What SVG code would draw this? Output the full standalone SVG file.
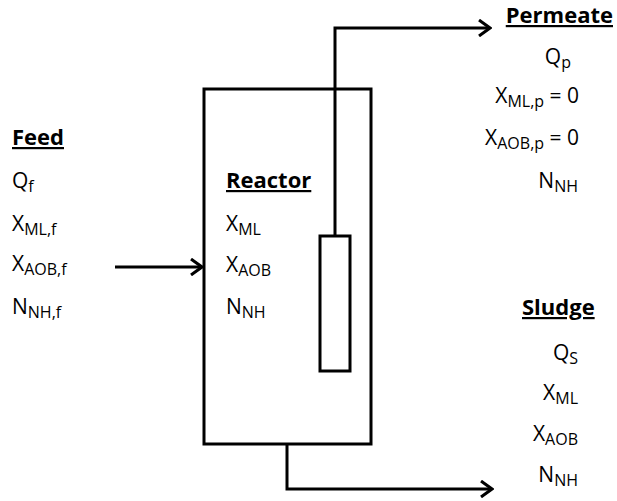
<svg xmlns="http://www.w3.org/2000/svg" width="617" height="501" viewBox="0 0 617 501">
<style>
text{font-family:"Open Sans","Liberation Sans",sans-serif;font-size:21px;fill:#000}
.h{font-weight:bold;text-decoration:underline;font-size:22px}
.e{text-anchor:end}
.s{font-size:16px}
.ln{fill:none;stroke:#000;stroke-width:3}
</style>
<defs>
<marker id="ah" markerWidth="14" markerHeight="18" refX="12" refY="9" orient="auto" markerUnits="userSpaceOnUse">
<path d="M1,1 L12,9 L1,17" fill="none" stroke="#000" stroke-width="3"/>
</marker>
</defs>
<rect width="617" height="501" fill="#fff"/>
<g id="connectors">
<path class="ln" d="M115,267 H202" marker-end="url(#ah)"/>
<path class="ln" d="M335,236 V28 H490" marker-end="url(#ah)"/>
<path class="ln" d="M287,444 V489 H492" marker-end="url(#ah)"/>
</g>
<g id="reactor">
<rect class="ln" x="204" y="89" width="167" height="355"/>
<text class="h" x="226" y="188">Reactor</text>
<text x="226" y="231">X<tspan class="s" dy="4">ML</tspan></text>
<text x="226" y="272">X<tspan class="s" dy="4">AOB</tspan></text>
<text x="226" y="314">N<tspan class="s" dy="4">NH</tspan></text>
</g>
<g id="membrane">
<rect class="ln" x="320" y="236" width="30" height="135"/>
</g>
<g id="feed">
<text class="h" x="12" y="145">Feed</text>
<text x="12" y="188">Q<tspan class="s" dy="4">f</tspan></text>
<text x="12" y="231">X<tspan class="s" dy="4">ML,f</tspan></text>
<text x="12" y="271">X<tspan class="s" dy="4">AOB,f</tspan></text>
<text x="12" y="314">N<tspan class="s" dy="4">NH,f</tspan></text>
</g>
<g id="permeate">
<text class="h e" x="613" y="23">Permeate</text>
<text class="e" x="571" y="64">Q<tspan class="s" dy="4">p</tspan></text>
<text class="e" x="579" y="103">X<tspan class="s" dy="4">ML,p</tspan><tspan dy="-4"> = 0</tspan></text>
<text class="e" x="579" y="145">X<tspan class="s" dy="4">AOB,p</tspan><tspan dy="-4"> = 0</tspan></text>
<text class="e" x="578" y="188">N<tspan class="s" dy="4">NH</tspan></text>
</g>
<g id="sludge">
<text class="h" x="522" y="315">Sludge </text>
<text class="e" x="578" y="360">Q<tspan class="s" dy="4">S</tspan></text>
<text class="e" x="578" y="400">X<tspan class="s" dy="4">ML</tspan></text>
<text class="e" x="578" y="441">X<tspan class="s" dy="4">AOB</tspan></text>
<text class="e" x="578" y="482">N<tspan class="s" dy="4">NH</tspan></text>
</g>
</svg>
